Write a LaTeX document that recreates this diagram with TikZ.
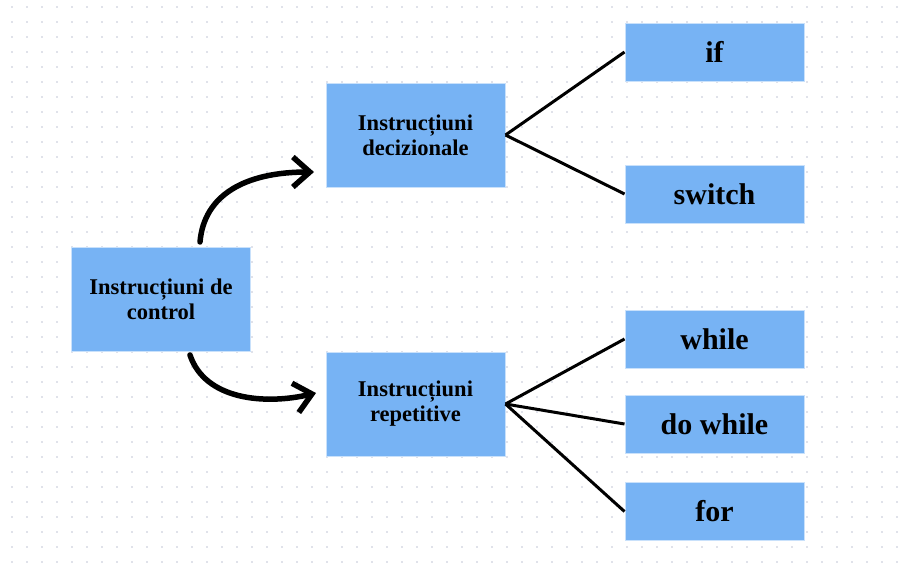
\documentclass[tikz,border=0pt]{standalone}
\usepackage{fontspec}
\setmainfont{Liberation Serif}
\usetikzlibrary{arrows.meta}

\definecolor{boxblue}{RGB}{119,179,244}
\definecolor{dotgray}{RGB}{224,226,234}

\tikzset{
    box/.style={fill=boxblue, draw=white!60!boxblue, line width=1pt, align=center,
        font=\bfseries\fontsize{22.5}{25}\selectfont},
    bigbox/.style={box, minimum width=179pt, minimum height=104pt},
    leafbox/.style={box, minimum width=179pt, minimum height=58pt,
        font=\bfseries\fontsize{30}{32}\selectfont},
    branch/.style={line width=3pt, black},
    curvy/.style={line width=5.5pt, line cap=round, -{Straight Barb[length=17pt,width=30pt]}}
}

\begin{document}
\begin{tikzpicture}[x=1pt, y=-1pt]
    % Background with dots
    \useasboundingbox (0,0) rectangle (907,566);
    \fill[white] (0,0) rectangle (907,566);
    \foreach \i in {0,...,59} {
        \foreach \j in {0,...,37} {
            \fill[dotgray] (12+15*\i-1,7+15*\j-1) rectangle ++(2,2);
        }
    }

    % Main boxes
    \node[bigbox] (ctrl) at (161,299) {Instrucțiuni de\\control};
    \node[bigbox] (dec)  at (415.5,135) {Instrucțiuni\\decizionale};
    \node[bigbox] (rep)  at (415.5,404) {Instrucțiuni\\repetitive};

    % Leaf boxes
    \node[leafbox] (if)     at (714.5,52)  {if};
    \node[leafbox] (switch) at (714.5,194) {switch};
    \node[leafbox] (while)  at (714.5,339) {while};
    \node[leafbox] (dowhile) at (714.5,424) {do while};
    \node[leafbox] (for)    at (714.5,511.5) {for};

    % Branches
    \draw[branch] (dec.east) -- (if.west);
    \draw[branch] (dec.east) -- (switch.west);
    \draw[branch] (rep.east) -- (while.west);
    \draw[branch] (rep.east) -- (dowhile.west);
    \draw[branch] (rep.east) -- (for.west);

    % Curved arrows
    \coordinate (upstart) at (200,242);
    \coordinate (upend)   at (314,172);
    \coordinate (dnstart) at (190,355);
    \coordinate (dnend)   at (316,393);
    \draw[curvy] (upstart) .. controls (204,195) and (245,172) .. (upend);
    \draw[curvy] (dnstart) .. controls (205,400) and (265,405) .. (dnend);
\end{tikzpicture}
\end{document}
